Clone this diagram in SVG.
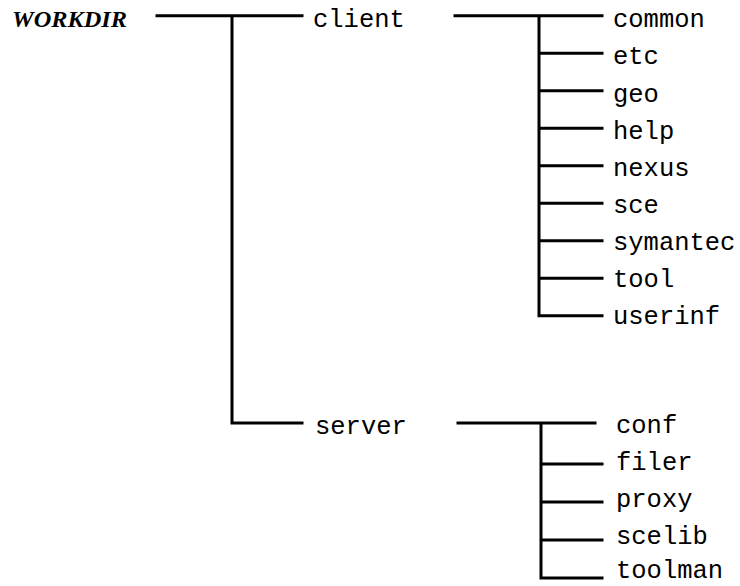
<svg xmlns="http://www.w3.org/2000/svg" width="740" height="586" viewBox="0 0 740 586">
  <style>
    .ln { stroke: #000; stroke-width: 3; fill: none; stroke-linecap: square; }
    .dir { font-family: "Liberation Mono", "Courier New", monospace; font-size: 25.5px; fill: #000; }
    .root { font-family: "Liberation Serif", "Times New Roman", serif; font-size: 23px; font-weight: bold; font-style: italic; fill: #000; }
  </style>
  <rect width="740" height="586" fill="#fff"/>

  <!-- tree connectors -->
  <g id="connectors">
    <!-- WORKDIR to client / server -->
    <path class="ln" d="M157 15.7 H302 M232 15.7 V423 H302"/>
    <!-- client subfolders -->
    <path class="ln" d="M455 15.7 H602 M539 15.7 V315.7 H602
      M539 53.2 H602 M539 90.7 H602 M539 128.2 H602 M539 165.7 H602
      M539 203.2 H602 M539 240.7 H602 M539 278.2 H602"/>
    <!-- server subfolders -->
    <path class="ln" d="M458 423 H595 M541 423 V578 H602
      M541 464 H602 M541 502 H602 M541 540 H602"/>
  </g>

  <g id="workdir"><text class="root" x="12" y="27.3" textLength="115" lengthAdjust="spacingAndGlyphs">WORKDIR</text></g>
  <g id="client"><text class="dir" x="313" y="27">client</text></g>
  <g id="server"><text class="dir" x="315" y="434">server</text></g>

  <g id="client-children">
    <g id="common"><text class="dir" x="613" y="27.3">common</text></g>
    <g id="etc"><text class="dir" x="613" y="64.4">etc</text></g>
    <g id="geo"><text class="dir" x="613" y="101.5">geo</text></g>
    <g id="help"><text class="dir" x="613" y="138.6">help</text></g>
    <g id="nexus"><text class="dir" x="613" y="175.7">nexus</text></g>
    <g id="sce"><text class="dir" x="613" y="212.8">sce</text></g>
    <g id="symantec"><text class="dir" x="613" y="249.9">symantec</text></g>
    <g id="tool"><text class="dir" x="613" y="287">tool</text></g>
    <g id="userinf"><text class="dir" x="613" y="324">userinf</text></g>
  </g>

  <g id="server-children">
    <g id="conf"><text class="dir" x="616" y="433">conf</text></g>
    <g id="filer"><text class="dir" x="616" y="470">filer</text></g>
    <g id="proxy"><text class="dir" x="616" y="507">proxy</text></g>
    <g id="scelib"><text class="dir" x="616" y="543.5">scelib</text></g>
    <g id="toolman"><text class="dir" x="616" y="577.5">toolman</text></g>
  </g>
</svg>
